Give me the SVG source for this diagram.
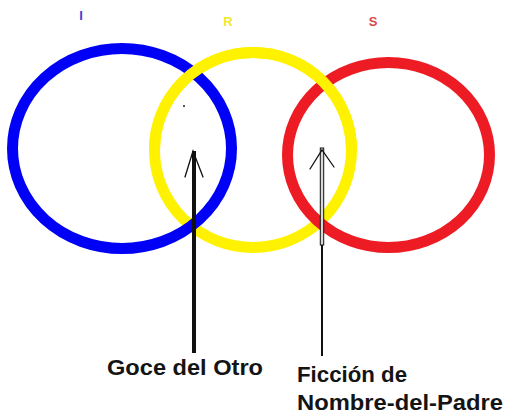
<svg xmlns="http://www.w3.org/2000/svg" width="508" height="417" viewBox="0 0 508 417">
<defs>
<style>
.ring{fill:none;stroke-width:11}
.lbl{font-family:"Liberation Sans",Arial,sans-serif;font-weight:bold;font-size:13px}
.txt{font-family:"Liberation Sans",Arial,sans-serif;font-weight:bold;font-size:22px;fill:#141414}
.head{fill:none;stroke:#111;stroke-width:1.3;stroke-linecap:round}
</style>
<clipPath id="topHalf"><rect x="0" y="0" width="508" height="150"/></clipPath>
</defs>
<rect width="508" height="417" fill="#ffffff"/>
<g id="ring-R-base"><ellipse class="ring" cx="253" cy="150" rx="98.5" ry="97.5" stroke="#fff200"/></g>
<g id="ring-I"><ellipse class="ring" cx="122" cy="148.5" rx="109.5" ry="100" stroke="#0000f6"/><text class="lbl" x="81" y="20" fill="#4343d6" text-anchor="middle">I</text></g>
<g id="ring-S"><ellipse class="ring" cx="388.5" cy="155" rx="101" ry="92.5" stroke="#ed1c24"/><text class="lbl" x="373" y="26" fill="#d84848" text-anchor="middle">S</text></g>
<g id="ring-R"><ellipse class="ring" cx="253" cy="150" rx="98.5" ry="97.5" stroke="#fff200" clip-path="url(#topHalf)"/><text class="lbl" x="228" y="26" fill="#f2e62a" text-anchor="middle">R</text></g>
<circle cx="184" cy="106" r="1" fill="#222"/>
<g id="connectors">
<line x1="194" y1="151" x2="194" y2="353" stroke="#111" stroke-width="4"/>
<polyline class="head" points="185,177 193,151 203,177"/>
<rect x="320.3" y="148" width="3.4" height="97" fill="#d8d8d8" stroke="#111" stroke-width="1"/>
<line x1="322" y1="245" x2="322" y2="356" stroke="#111" stroke-width="2"/>
<polyline class="head" points="310,169 322,150 334,167"/>
</g>
<g id="label-goce"><text class="txt" x="107" y="375" textLength="156" lengthAdjust="spacingAndGlyphs">Goce del Otro</text></g>
<g id="label-ficcion"><text class="txt" x="297" y="382" textLength="110" lengthAdjust="spacingAndGlyphs">Ficción de</text><text class="txt" x="297" y="410" textLength="206" lengthAdjust="spacingAndGlyphs">Nombre-del-Padre</text></g>
</svg>
